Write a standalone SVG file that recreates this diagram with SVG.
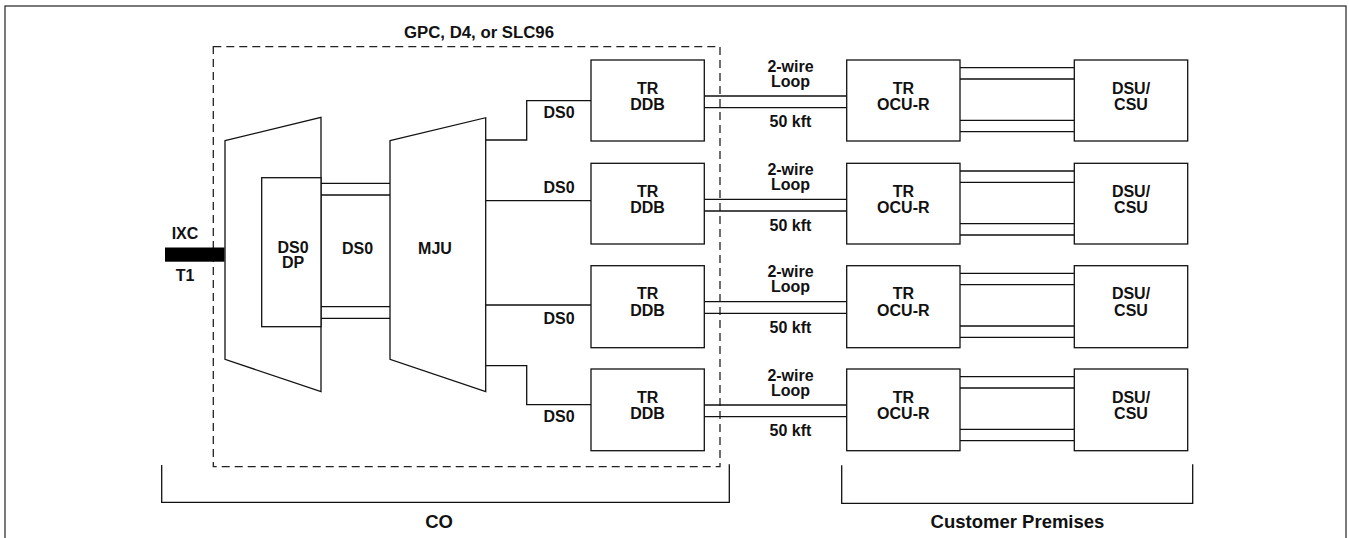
<svg xmlns="http://www.w3.org/2000/svg" width="1350" height="538" viewBox="0 0 1350 538">
<style>
.ln{fill:none;stroke:#111;stroke-width:1.3}
.bx{fill:#fff;stroke:#111;stroke-width:1.3}
.t{font-family:"Liberation Sans",Arial,sans-serif;font-weight:bold;font-size:16px;fill:#111;text-anchor:middle}
.big{font-size:18.5px}
</style>
<rect x="0" y="0" width="1350" height="538" fill="#fff"/>
<rect x="5" y="6" width="1341" height="560" fill="none" stroke="#333" stroke-width="1.3"/>

<g id="co-frame">
<rect x="213.3" y="46.7" width="506.7" height="420" fill="none" stroke="#222" stroke-width="1.3" stroke-dasharray="8 5"/>
<text class="t" x="479" y="37.5" font-size="16.5" textLength="150" lengthAdjust="spacingAndGlyphs">GPC, D4, or SLC96</text>
</g>

<g id="connectors">
<rect x="165" y="247.5" width="59.5" height="14.2" fill="#000"/>
<path class="ln" d="M321,183.3H390M321,195H390M321,306.7H390M321,318.3H390"/>
<path class="ln" d="M485.7,140H526.7V100.7H591M485.7,200.7H591M485.7,305H591M485.7,365.7H526.7V404.7H591"/>
<path class="ln" d="M704.3,96H846.7M704.3,107.7H846.7M704.3,199.3H846.7M704.3,211H846.7M704.3,301.7H846.7M704.3,313.4H846.7M704.3,405H846.7M704.3,416.7H846.7"/>
<path class="ln" d="M960,67.7H1074.3M960,79H1074.3M960,120.3H1074.3M960,131.7H1074.3M960,171H1074.3M960,182.3H1074.3M960,223.6H1074.3M960,235H1074.3M960,273.4H1074.3M960,284.7H1074.3M960,326H1074.3M960,337.4H1074.3M960,376.7H1074.3M960,388H1074.3M960,429.3H1074.3M960,440.7H1074.3"/>
<text class="t" x="185" y="239">IXC</text>
<text class="t" x="185" y="280.5">T1</text>
<text class="t" x="357.5" y="253.5">DS0</text>
<text class="t" x="559" y="118">DS0</text>
<text class="t" x="559" y="193">DS0</text>
<text class="t" x="559" y="323.5">DS0</text>
<text class="t" x="559" y="422">DS0</text>
<text class="t" x="790.5" y="71.7">2-wire</text><text class="t" x="790.5" y="86.7">Loop</text><text class="t" x="790.5" y="127.3">50 kft</text>
<text class="t" x="790.5" y="175">2-wire</text><text class="t" x="790.5" y="190">Loop</text><text class="t" x="790.5" y="230.6">50 kft</text>
<text class="t" x="790.5" y="277.4">2-wire</text><text class="t" x="790.5" y="292.4">Loop</text><text class="t" x="790.5" y="333">50 kft</text>
<text class="t" x="790.5" y="380.7">2-wire</text><text class="t" x="790.5" y="395.7">Loop</text><text class="t" x="790.5" y="436.3">50 kft</text>
</g>

<g id="ds0dp">
<polygon class="bx" points="225,140.7 321,117.3 321,391.7 225,359.3"/>
<rect class="bx" x="261.7" y="177.7" width="59.3" height="149"/>
<text class="t" x="293" y="252.5">DS0</text>
<text class="t" x="293" y="268">DP</text>
</g>

<g id="mju">
<polygon class="bx" points="390,140.7 485.7,117.7 485.7,391.7 390,359.3"/>
<text class="t" x="435" y="253.5">MJU</text>
</g>

<g id="trddb1"><rect class="bx" x="591" y="60" width="113.3" height="81"/><text class="t" x="647.6" y="93.5">TR</text><text class="t" x="647.6" y="110">DDB</text></g>
<g id="trddb2"><rect class="bx" x="591" y="163.3" width="113.3" height="80.7"/><text class="t" x="647.6" y="196.8">TR</text><text class="t" x="647.6" y="213.3">DDB</text></g>
<g id="trddb3"><rect class="bx" x="591" y="265.7" width="113.3" height="82"/><text class="t" x="647.6" y="299.2">TR</text><text class="t" x="647.6" y="315.7">DDB</text></g>
<g id="trddb4"><rect class="bx" x="591" y="369" width="113.3" height="81.7"/><text class="t" x="647.6" y="402.5">TR</text><text class="t" x="647.6" y="419">DDB</text></g>

<g id="ocur1"><rect class="bx" x="846.7" y="60" width="113.3" height="81"/><text class="t" x="903.3" y="93.5">TR</text><text class="t" x="903.3" y="110">OCU-R</text></g>
<g id="ocur2"><rect class="bx" x="846.7" y="163.3" width="113.3" height="80.7"/><text class="t" x="903.3" y="196.8">TR</text><text class="t" x="903.3" y="213.3">OCU-R</text></g>
<g id="ocur3"><rect class="bx" x="846.7" y="265.7" width="113.3" height="82"/><text class="t" x="903.3" y="299.2">TR</text><text class="t" x="903.3" y="315.7">OCU-R</text></g>
<g id="ocur4"><rect class="bx" x="846.7" y="369" width="113.3" height="81.7"/><text class="t" x="903.3" y="402.5">TR</text><text class="t" x="903.3" y="419">OCU-R</text></g>

<g id="dsucsu1"><rect class="bx" x="1074.3" y="60" width="113.4" height="81"/><text class="t" x="1131" y="93.5">DSU/</text><text class="t" x="1131" y="110">CSU</text></g>
<g id="dsucsu2"><rect class="bx" x="1074.3" y="163.3" width="113.4" height="80.7"/><text class="t" x="1131" y="196.8">DSU/</text><text class="t" x="1131" y="213.3">CSU</text></g>
<g id="dsucsu3"><rect class="bx" x="1074.3" y="265.7" width="113.4" height="82"/><text class="t" x="1131" y="299.2">DSU/</text><text class="t" x="1131" y="315.7">CSU</text></g>
<g id="dsucsu4"><rect class="bx" x="1074.3" y="369" width="113.4" height="81.7"/><text class="t" x="1131" y="402.5">DSU/</text><text class="t" x="1131" y="419">CSU</text></g>

<g id="co-bracket">
<path class="ln" d="M161.7,465V502.3H729.3V464.3"/>
<text class="t big" x="439" y="527.5">CO</text>
</g>
<g id="cp-bracket">
<path class="ln" d="M841.7,465.3V503.3H1192.7V464.3"/>
<text class="t big" x="1017.5" y="528">Customer Premises</text>
</g>
</svg>
